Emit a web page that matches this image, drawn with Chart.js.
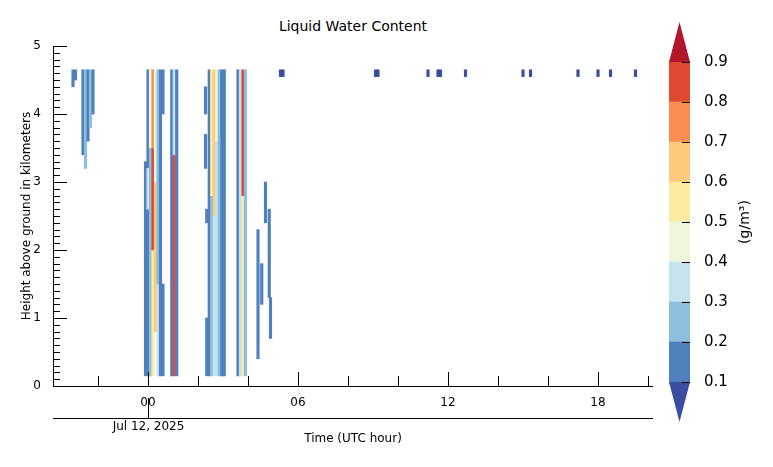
<!DOCTYPE html>
<html><head><meta charset="utf-8">
<script src="https://cdn.jsdelivr.net/npm/chart.js@4.4.1/dist/chart.umd.min.js"></script>
<style>
body{margin:0;background:#fff;font-family:"DejaVu Sans",sans-serif}
#wrap{position:relative;width:773px;height:467px}
#c1{position:absolute;left:0;top:0}
#c2{position:absolute;left:640px;top:0}
#title{position:absolute;left:0;width:706px;top:18px;text-align:center;font-size:14px}
</style></head><body>
<div id="wrap">
<div id="title">Liquid Water Content</div>
<canvas id="c1" width="660" height="467" style="width:660px;height:467px"></canvas>
<canvas id="c2" width="133" height="467" style="width:133px;height:467px"></canvas>
</div>
<script>
// ---- data: vertical streaks (time in UTC hours from Jul 12 00Z, heights in km, LWC g/m3)
const segTime  = [-3.0,-2.9,-2.6,-2.5,-2.4,-2.3,-2.2,
  -0.1,-0.1, 0.0,0.0, 0.1,0.1, 0.2,0.2,0.2, 0.3,0.3, 0.4,0.4, 0.5, 0.6,0.6,
  0.95, 1.05,1.05, 1.15,
  2.35, 2.45, 2.55,2.55, 2.65,2.65, 2.75,2.75, 2.85, 2.95, 3.05,
  3.6, 3.7, 3.8,3.8, 3.9,
  2.3,2.3,2.35, 4.4,4.55,4.7,4.85,4.9,
  5.3,5.4,9.1,9.2,11.2,11.6,11.7,12.7,15.0,15.3,17.2,18.0,18.5,19.5];
const segBottom= [4.4,4.5,3.4,3.2,3.6,3.8,4.0,
  1.85,0.15, 0.15,2.6, 0.15,3.5, 0.15,2.0,3.5, 0.8,3.0, 0.15,1.5, 0.15, 4.0,0.15,
  0.15, 0.15,3.4, 0.15,
  0.15, 0.15, 0.15,2.8, 0.15,2.5, 0.15,3.6, 0.15, 0.15, 0.15,
  0.15, 0.15, 0.15,2.8, 0.15,
  3.2,4.0,2.4, 0.4,1.2,2.4,1.3,0.7,
  4.55,4.55,4.55,4.55,4.55,4.55,4.55,4.55,4.55,4.55,4.55,4.55,4.55,4.55];
const segTop   = [4.65,4.65,4.65,4.65,4.65,4.65,4.65,
  3.3,1.9, 4.65,3.2, 4.65,4.65, 2.0,3.5,4.65, 3.0,4.65, 1.5,4.65, 4.65, 4.65,1.5,
  4.65, 3.4,4.65, 4.65,
  1.0, 4.65, 2.8,4.65, 2.5,4.65, 3.6,4.65, 4.65, 4.65, 4.65,
  4.65, 4.65, 2.8,4.65, 4.65,
  3.7,4.4,2.6, 2.3,1.8,3.0,2.6,1.3,
  4.65,4.65,4.65,4.65,4.65,4.65,4.65,4.65,4.65,4.65,4.65,4.65,4.65,4.65];
const segValue = [0.12,0.15,0.15,0.2,0.15,0.2,0.15,
  0.15,0.12, 0.15,0.35, 0.2,0.4, 0.5,0.85,0.7, 0.6,0.45, 0.3,0.25, 0.15, 0.15,0.12,
  0.15, 0.85,0.3, 0.15,
  0.15, 0.15, 0.25,0.5, 0.35,0.6, 0.3,0.45, 0.2, 0.15, 0.15,
  0.15, 0.3, 0.5,0.85, 0.2,
  0.12,0.12,0.12, 0.12,0.12,0.12,0.12,0.12,
  0.05,0.05,0.05,0.05,0.05,0.05,0.05,0.05,0.05,0.05,0.05,0.05,0.05,0.05];
const xTickLabels = ["00","06","12","18"];
const xTickValues = [0,6,12,18];
const yTickValues = [0,1,2,3,4,5];
const levels = [0.1,0.2,0.3,0.4,0.5,0.6,0.7,0.8,0.9];
const levelColors = ["#4f7fbd","#8dbfdc","#c5e3ef","#edf7dc","#fdeba0","#fdc97b","#f98e52","#e04a33"];
const underColor = "#3a4da0", overColor = "#b2182b";

function colorFor(v){
  if(v<levels[0]) return underColor;
  for(let i=0;i<levelColors.length;i++) if(v<levels[i+1]) return levelColors[i];
  return overColor;
}
const F = "'DejaVu Sans', sans-serif";

const inTicks = {
  id:'inTicks',
  afterDraw(ch){
    const c=ch.ctx, x=ch.scales.x, y=ch.scales.y, a=ch.chartArea;
    c.save(); c.strokeStyle='#000'; c.lineWidth=1;
    c.beginPath();
    c.moveTo(a.left+0.5,a.top); c.lineTo(a.left+0.5,a.bottom+0.5); c.lineTo(a.right,a.bottom+0.5);
    for(let k=0;k<=50;k++){
      const p=Math.round(y.getPixelForValue(k/10))+0.5;
      const L = k%10===0?14:7;
      c.moveTo(a.left,p); c.lineTo(a.left+L,p);
    }
    for(let h=-2;h<=20;h+=2){
      const p=Math.round(x.getPixelForValue(h))+0.5;
      const L = h%6===0?14:10;
      c.moveTo(p,a.bottom); c.lineTo(p,a.bottom-L);
    }
    const y2=a.bottom+32.5;
    c.moveTo(a.left,y2); c.lineTo(a.right,y2);
    const p0=Math.round(x.getPixelForValue(0))+0.5;
    c.moveTo(p0,a.bottom+12); c.lineTo(p0,y2);
    c.stroke();
    c.fillStyle='#000'; c.font='12px '+F; c.textAlign='center'; c.textBaseline='top';
    c.fillText('Jul 12, 2025',p0,a.bottom+35);
    c.fillText('Time (UTC hour)',(a.left+a.right)/2,a.bottom+47);
    c.restore();
  }
};

new Chart(document.getElementById('c1'),{
  type:'bar',
  data:{datasets:[{
    data: segTime.map((t,i)=>({x:t,y:[segBottom[i],segTop[i]]})),
    backgroundColor: segValue.map(colorFor),
    barThickness:2.5, borderWidth:0, grouped:false
  }]},
  options:{
    responsive:false, animation:false,
    layout:{padding:{top:46,right:7,left:20}},
    plugins:{legend:{display:false},tooltip:{enabled:false}},
    scales:{
      x:{type:'linear',min:-3.8,max:20.2,offset:false,
        afterBuildTicks(s){s.ticks=xTickValues.map(v=>({value:v}));},
        ticks:{callback:(v,i)=>xTickLabels[i],color:'#000',font:{size:12,family:F},padding:2,maxRotation:0,autoSkip:false},
        grid:{display:false},border:{display:false},
        afterFit(s){s.height=81;}},
      y:{type:'linear',min:0,max:5,
        afterBuildTicks(s){s.ticks=yTickValues.map(v=>({value:v}));},
        ticks:{color:'#000',font:{size:12,family:F},padding:4},
        title:{display:true,text:'Height above ground in kilometers',color:'#000',font:{size:12,family:F},padding:0},
        grid:{display:false},border:{display:false},
        afterFit(s){s.width=33;}}
    }
  },
  plugins:[inTicks]
});

const tri = {
  id:'tri',
  afterDraw(ch){
    const c=ch.ctx, y=ch.scales.y, a=ch.chartArea;
    c.save();
    const t=y.getPixelForValue(0.9), b=y.getPixelForValue(0.1);
    c.fillStyle=overColor; c.beginPath(); c.moveTo(a.left,t); c.lineTo(a.right,t); c.lineTo((a.left+a.right)/2,t-40); c.fill();
    c.fillStyle=underColor; c.beginPath(); c.moveTo(a.left,b); c.lineTo(a.right,b); c.lineTo((a.left+a.right)/2,b+40); c.fill();
    c.strokeStyle='#000'; c.lineWidth=1;
    c.beginPath();
    for(const v of levels){const p=Math.round(y.getPixelForValue(v))+0.5; c.moveTo(a.right-8,p); c.lineTo(a.right,p);}
    c.stroke();
    c.translate(a.right+55,(t+b)/2); c.rotate(-Math.PI/2);
    c.fillStyle='#000'; c.font='14px '+F; c.textAlign='center'; c.textBaseline='middle';
    c.fillText('(g/m³)',0,0);
    c.restore();
  }
};
new Chart(document.getElementById('c2'),{
  type:'bar',
  data:{labels:['c'],datasets:levelColors.map((col,i)=>({data:[[levels[i],levels[i+1]]],backgroundColor:col,borderWidth:0,barPercentage:1,categoryPercentage:1,grouped:false}))},
  options:{
    responsive:false, animation:false,
    layout:{padding:{top:62,bottom:85,left:29}},
    plugins:{legend:{display:false},tooltip:{enabled:false}},
    scales:{
      x:{display:false},
      y:{position:'right',min:0.1,max:0.9,
        afterBuildTicks(s){s.ticks=levels.map(v=>({value:v}));},
        ticks:{color:'#000',font:{size:15,family:F},padding:6,callback:v=>v.toFixed(1)},
        grid:{display:false},border:{display:false},
        afterFit(s){s.width=83;}}
    }
  },
  plugins:[tri]
});
</script>
</body></html>
